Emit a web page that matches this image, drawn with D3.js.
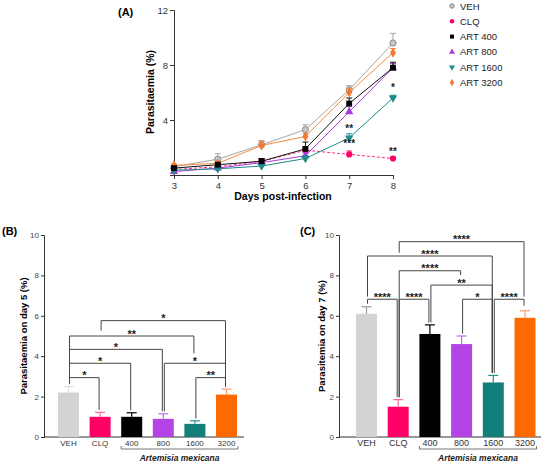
<!DOCTYPE html>
<html>
<head>
<meta charset="utf-8">
<script src="https://cdn.jsdelivr.net/npm/d3@7"></script>
<style>
  body { margin: 0; background: #fff; }
  text { font-family: "Liberation Sans", Arial, sans-serif; }
</style>
</head>
<body>
<script>
// ---- panel A : parasitaemia by day ----
var days = [3, 4, 5, 6, 7, 8];
var groups = ["VEH", "CLQ", "ART 400", "ART 800", "ART 1600", "ART 3200"];
var vehDays   = [0.6, 1.15, 2.2, 3.3, 6.2, 9.6];
var clqDays   = [0.4, 0.6, 1.0, 1.8, 1.5, 1.2];
var art400Days  = [0.5, 0.75, 1.0, 1.9, 5.2, 7.8];
var art800Days  = [0.25, 0.5, 0.9, 1.4, 4.6, 7.8];
var art1600Days = [0.35, 0.45, 0.65, 1.2, 2.7, 5.6];
var art3200Days = [0.7, 0.85, 2.15, 2.8, 6.0, 8.9];
var vehErr   = [0.15, 0.4, 0.3, 0.35, 0.3, 0.7];
var clqErr   = [0.1, 0.15, 0.2, 0.2, 0.25, 0.1];
var art400Err  = [0.1, 0.15, 0.2, 0.5, 0.4, 0.4];
var art800Err  = [0.1, 0.1, 0.2, 0.2, 0.4, 0.3];
var art1600Err = [0.1, 0.1, 0.1, 0.2, 0.3, 0.2];
var art3200Err = [0.1, 0.1, 0.3, 0.2, 0.3, 0.3];
var yTicksA = [4, 8, 12];
// significance marks on panel A: [day, value, label]
var marksA = [[7, 3.4, "**"], [7, 2.3, "***"], [8, 6.4, "*"], [8, 1.75, "**"]];

// ---- panels B and C : bars ----
var barCats = ["VEH", "CLQ", "400", "800", "1600", "3200"];
var day5 = [2.2, 1.0, 1.0, 0.9, 0.65, 2.1];
var day5Err = [0.3, 0.22, 0.2, 0.25, 0.15, 0.27];
var day7 = [6.1, 1.5, 5.1, 4.6, 2.7, 5.9];
var day7Err = [0.35, 0.35, 0.45, 0.4, 0.35, 0.35];
var yTicksBar = [0, 2, 4, 6, 8, 10];
// brackets: [from, to, level, label, left leg end, right leg end] (null = down to bar)
var bracketsB = [
  [0, 1, 2.94, "*", null, null],
  [0, 2, 3.65, "*", null, null],
  [0, 3, 4.34, "*", null, null],
  [0, 4, 5.0, "**", null, 4.14],
  [1, 5, 5.76, "*", 5.26, null],
  [3, 5, 3.65, "*", null, null],
  [4, 5, 2.94, "**", null, null]
];
var bracketsC = [
  [1, 5, 9.67, "****", 9.12, 6.95],
  [0, 4, 8.96, "****", 6.95, null],
  [1, 3, 8.23, "****", null, 8.02],
  [2, 4, 7.52, "**", null, null],
  [0, 1, 6.82, "****", 6.6, null],
  [1, 2, 6.82, "****", null, null],
  [3, 4, 6.82, "*", null, null],
  [4, 5, 6.82, "****", null, 6.5]
];

// colours
var lineColors = ["#a6a6a6", "#ff2a7f", "#111111", "#a83ae0", "#1f8c8a", "#f58a3c"];
var markFill   = ["#c8c8c8", "#ff0066", "#000000", "#a83ae0", "#1f8c8a", "#f07a30"];
var barColors  = ["#d3d3d3", "#ff0066", "#000000", "#b444e6", "#127f7b", "#ff6a00"];
var errColors  = ["#9a9a9a", "#ff66a3", "#000000", "#c46cf0", "#2a8f8b", "#ff9966"];

var svg = d3.select("body").append("svg")
    .attr("width", 550)
    .attr("height", 467);

// ================= panel A =================
var xA = d3.scaleLinear().domain([3, 8]).range([174, 393]);
var yA = d3.scaleLinear().domain([0, 12]).range([175, 10]);

var gA = svg.append("g");

gA.append("g")
  .attr("transform", "translate(0,175)")
  .call(d3.axisBottom(xA).tickValues(days).tickFormat(d3.format("d")).tickSize(4).tickPadding(3))
  .call(function(g){ g.selectAll("text").style("font-size", "9.5px").attr("fill", "#333"); });

gA.append("g")
  .attr("transform", "translate(174,0)")
  .call(d3.axisLeft(yA).tickValues(yTicksA).tickSize(4).tickPadding(2))
  .call(function(g){ g.selectAll("text").style("font-size", "9.5px").attr("fill", "#333"); });

gA.selectAll(".domain, .tick line").attr("stroke", "#333");

var seriesA = [vehDays, clqDays, art400Days, art800Days, art1600Days, art3200Days];
var errA = [vehErr, clqErr, art400Err, art800Err, art1600Err, art3200Err];
var shapes = [d3.symbolCircle, d3.symbolCircle, d3.symbolSquare, d3.symbolTriangle, d3.symbolTriangle, d3.symbolDiamond];
var shapeSize = [30, 30, 34, 30, 30, 30];
var shapeRot = [0, 0, 0, 0, 180, 0];

var line = d3.line()
    .x(function(d, i){ return xA(days[i]); })
    .y(function(d){ return yA(d); });

// draw order so the black squares sit on top of the purple triangles
var order = [0, 5, 1, 3, 4, 2];
order.forEach(function(s){
  var vals = seriesA[s];
  gA.append("path")
    .datum(vals)
    .attr("d", line)
    .attr("fill", "none")
    .attr("stroke", lineColors[s])
    .attr("stroke-width", 1)
    .attr("stroke-dasharray", s == 1 ? "3,2" : null);

  // error bars (upper only)
  vals.forEach(function(v, i){
    var x = xA(days[i]);
    gA.append("line")
      .attr("x1", x).attr("x2", x)
      .attr("y1", yA(v)).attr("y2", yA(v + errA[s][i]))
      .attr("stroke", lineColors[s]).attr("stroke-width", 1);
    gA.append("line")
      .attr("x1", x - 3).attr("x2", x + 3)
      .attr("y1", yA(v + errA[s][i])).attr("y2", yA(v + errA[s][i]))
      .attr("stroke", lineColors[s]).attr("stroke-width", 1);
  });

  gA.selectAll(null)
    .data(vals)
    .enter()
    .append("path")
    .attr("d", d3.symbol().type(shapes[s]).size(shapeSize[s]))
    .attr("transform", function(d, i){
      return "translate(" + xA(days[i]) + "," + yA(d) + ") rotate(" + shapeRot[s] + ")";
    })
    .attr("fill", markFill[s])
    .attr("stroke", s == 0 ? "#8a8a8a" : "none")
    .attr("stroke-width", 1);
});

gA.selectAll("text.mark")
  .data(marksA)
  .enter()
  .append("text")
  .attr("class", "mark")
  .attr("x", function(d){ return xA(d[0]); })
  .attr("y", function(d){ return yA(d[1]) + 4; })
  .attr("text-anchor", "middle")
  .style("font-size", "10px")
  .style("font-weight", "bold")
  .attr("fill", "#222")
  .text(function(d){ return d[2]; });

gA.append("text")
  .attr("x", 283).attr("y", 200)
  .attr("text-anchor", "middle")
  .style("font-size", "10.5px")
  .style("font-weight", "bold")
  .text("Days post-infection");

gA.append("text")
  .attr("transform", "translate(154,92) rotate(-90)")
  .attr("text-anchor", "middle")
  .style("font-size", "10.5px")
  .style("font-weight", "bold")
  .text("Parasitaemia (%)");

gA.append("text")
  .attr("x", 118).attr("y", 16)
  .style("font-size", "11px")
  .style("font-weight", "bold")
  .text("(A)");

// legend
var legend = gA.selectAll("g.leg")
  .data(groups)
  .enter()
  .append("g")
  .attr("class", "leg")
  .attr("transform", function(d, i){ return "translate(452," + (6 + i * 15.3) + ")"; });

legend.append("path")
  .attr("d", function(d, i){ return d3.symbol().type(shapes[i]).size(16)(); })
  .attr("transform", function(d, i){ return "rotate(" + shapeRot[i] + ")"; })
  .attr("fill", function(d, i){ return markFill[i]; })
  .attr("stroke", function(d, i){ return i == 0 ? "#8a8a8a" : "none"; });

legend.append("text")
  .attr("x", 8).attr("y", 3.5)
  .style("font-size", "9.5px")
  .attr("fill", "#222")
  .text(function(d){ return d; });

// ================= panels B and C =================
function barPanel(opts) {
  var g = svg.append("g");
  var x = d3.scalePoint().domain(barCats).range(opts.xRange);
  var y = d3.scaleLinear().domain([0, 10]).range([437, 235]);
  var bw = 21;

  g.append("g")
    .attr("transform", "translate(" + opts.axisX + ",0)")
    .call(d3.axisLeft(y).tickValues(yTicksBar).tickSize(3).tickPadding(2))
    .call(function(a){ a.selectAll("text").style("font-size", "8px").attr("fill", "#444"); });

  g.append("line")
    .attr("x1", opts.axisX).attr("x2", opts.xEnd)
    .attr("y1", 437).attr("y2", 437)
    .attr("stroke", "#333");

  g.selectAll(".domain, .tick line").attr("stroke", "#333");

  // bars
  g.selectAll("rect.bar")
    .data(opts.values)
    .enter()
    .append("rect")
    .attr("class", "bar")
    .attr("x", function(d, i){ return x(barCats[i]) - bw / 2; })
    .attr("y", function(d){ return y(d); })
    .attr("width", bw)
    .attr("height", function(d){ return 437 - y(d); })
    .attr("fill", function(d, i){ return barColors[i]; });

  // error bars
  opts.values.forEach(function(v, i){
    var cx = x(barCats[i]);
    var top = y(v + opts.errors[i]);
    var col = (opts.vehErrColor && i == 0) ? opts.vehErrColor : errColors[i];
    g.append("line")
      .attr("x1", cx).attr("x2", cx)
      .attr("y1", y(v)).attr("y2", top)
      .attr("stroke", col).attr("stroke-width", 1.2);
    g.append("line")
      .attr("x1", cx - 5).attr("x2", cx + 5)
      .attr("y1", top).attr("y2", top)
      .attr("stroke", col).attr("stroke-width", 1.2);
  });

  // significance brackets
  opts.brackets.forEach(function(b){
    var x1 = x(barCats[b[0]]) + 1;
    var x2 = x(barCats[b[1]]) - 1;
    var lvl = y(b[2]);
    var end1 = y(b[4] != null ? b[4] : opts.values[b[0]] + opts.errors[b[0]] + 0.12);
    var end2 = y(b[5] != null ? b[5] : opts.values[b[1]] + opts.errors[b[1]] + 0.12);
    g.append("path")
      .attr("d", "M" + x1 + "," + end1 + "V" + lvl + "H" + x2 + "V" + end2)
      .attr("fill", "none")
      .attr("stroke", "#444")
      .attr("stroke-width", 1);
    g.append("text")
      .attr("x", (x1 + x2) / 2)
      .attr("y", lvl + 1.5)
      .attr("text-anchor", "middle")
      .style("font-size", "11px")
      .style("font-weight", "bold")
      .attr("fill", "#222")
      .text(b[3]);
  });

  // category labels
  g.selectAll("text.cat")
    .data(barCats)
    .enter()
    .append("text")
    .attr("class", "cat")
    .attr("x", function(d){ return x(d); })
    .attr("y", 446)
    .attr("text-anchor", "middle")
    .style("font-size", opts.catSize)
    .attr("fill", "#333")
    .text(function(d){ return d; });

  // bracket under the extract groups
  var bx1 = x(barCats[2]) - bw / 2;
  var bx2 = x(barCats[5]) + bw / 2 + 1;
  g.append("path")
    .attr("d", "M" + bx1 + ",446V449H" + bx2 + "V446")
    .attr("fill", "none")
    .attr("stroke", "#555")
    .attr("stroke-width", 0.8);

  g.append("text")
    .attr("x", (bx1 + bx2) / 2)
    .attr("y", 461)
    .attr("text-anchor", "middle")
    .style("font-size", "8.5px")
    .style("font-weight", "bold")
    .style("font-style", "italic")
    .attr("fill", "#222")
    .text("Artemisia mexicana");

  g.append("text")
    .attr("transform", "translate(" + opts.yLabelX + ",336) rotate(-90)")
    .attr("text-anchor", "middle")
    .style("font-size", "9.5px")
    .style("font-weight", "bold")
    .text(opts.yLabel);

  g.append("text")
    .attr("x", opts.tagX).attr("y", 235)
    .style("font-size", "11px")
    .style("font-weight", "bold")
    .text(opts.tag);
}

barPanel({
  values: day5, errors: day5Err, brackets: bracketsB,
  xRange: [68.5, 226.5], axisX: 44, xEnd: 244,
  yLabel: "Parasitaemia on day 5 (%)", yLabelX: 27,
  tag: "(B)", tagX: 2,
  catSize: "8px",
  vehErrColor: "#dcdcdc"
});

barPanel({
  values: day7, errors: day7Err, brackets: bracketsC,
  xRange: [366.5, 525], axisX: 339, xEnd: 541,
  yLabel: "Parasitemia on day 7 (%)", yLabelX: 325,
  tag: "(C)", tagX: 300,
  catSize: "9px"
});
</script>
</body>
</html>
